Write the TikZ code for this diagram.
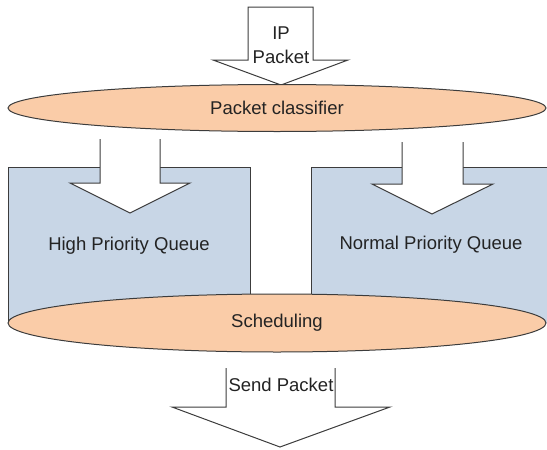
\documentclass[tikz,border=0pt]{standalone}
\usepackage{fontspec}
\setmainfont{Liberation Sans}
\usetikzlibrary{shapes.geometric,positioning}
\definecolor{queueblue}{RGB}{200,214,230}
\definecolor{peach}{RGB}{250,204,168}
\definecolor{edgegray}{RGB}{60,60,60}
\definecolor{txtgray}{RGB}{35,35,35}

\begin{document}
\begin{tikzpicture}[x=1pt,y=-1pt,
  lbl/.style={font=\fontsize{18.5}{24}\selectfont,text=txtgray,align=center,inner sep=0pt},
  disk/.style={ellipse,draw=edgegray,fill=peach,line width=1pt,inner sep=0pt,minimum width=538pt,
    font=\fontsize{18.5}{24}\selectfont,text=txtgray},
  outline/.style={draw=edgegray,line width=1pt},
  fatarrow/.style={fill=white}]
\useasboundingbox (0,0) rectangle (547,450);
% the two queues
\fill[queueblue] (8,167) rectangle (250,323);
\draw[outline] (8,323) -- (8,167) -- (250,167) -- (250,310);
\fill[queueblue] (311,167) rectangle (547,323);
\draw[outline] (311,310) -- (311,167) -- (547,167);
% incoming packet
\filldraw[outline,fatarrow] (248,7) -- (313,7) -- (313,60) -- (348,60) -- (281,85)
  -- (213,60) -- (248,60) -- cycle;
\node[lbl] (ip) at (281,45) {IP\\Packet};
\node[disk,minimum height=47pt] (classifier) at (277,108) {Packet classifier};
% arrows into the queues
\fill[fatarrow] (100,139) -- (160,139) -- (160,183) -- (190,183) -- (130,213) -- (70,183) -- (100,183) -- cycle;
\draw[outline] (100,139) -- (100,183) -- (70,183) -- (130,213) -- (190,183) -- (160,183) -- (160,139);
\fill[fatarrow] (402,142) -- (463,142) -- (463,184) -- (493,184) -- (432,214) -- (372,184) -- (402,184) -- cycle;
\draw[outline] (402,142) -- (402,184) -- (372,184) -- (432,214) -- (493,184) -- (463,184) -- (463,142);
\node[lbl] (high) at (129,246) {High Priority Queue};
\node[lbl] (normal) at (431,245) {Normal Priority Queue};
% scheduler and output
\node[disk,minimum height=58pt] (sched) at (277,323) {Scheduling};
\draw[outline] (226,368) -- (226,407) -- (172,407) -- (280,447) -- (390,407) -- (335,407) -- (335,368);
\node[lbl] (send) at (281,385) {Send Packet};
\end{tikzpicture}
\end{document}
